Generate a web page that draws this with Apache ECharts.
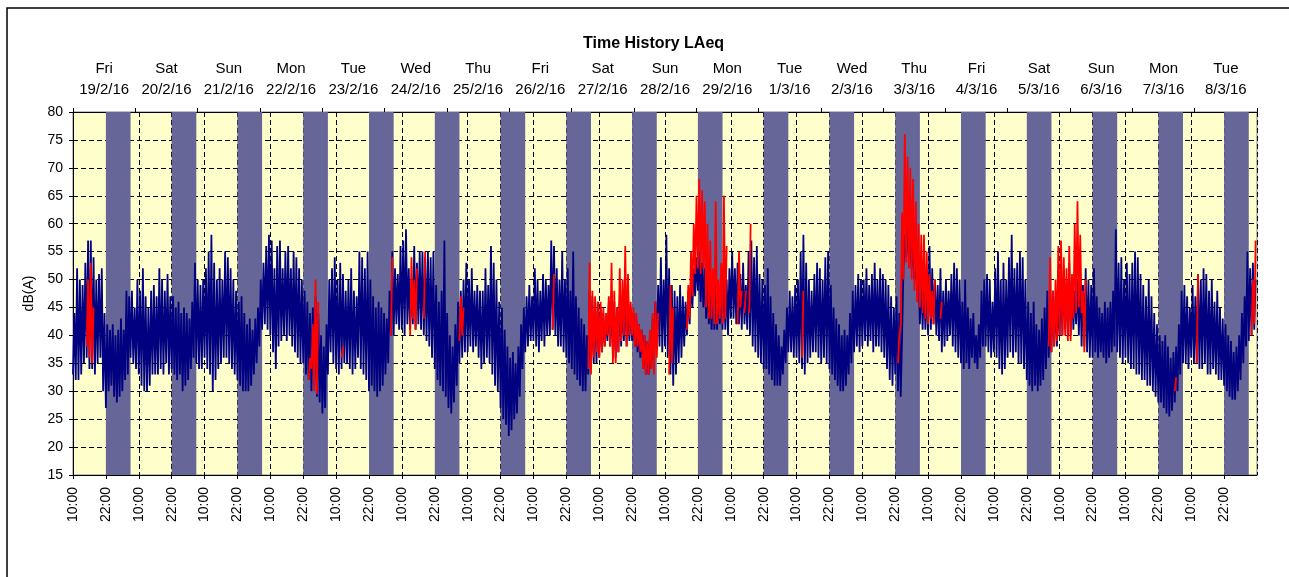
<!DOCTYPE html>
<html>
<head>
<meta charset="utf-8">
<script src="https://cdn.jsdelivr.net/npm/echarts@6/dist/echarts.min.js"></script>
<style>html,body{margin:0;padding:0;background:#fff}#c{width:1289px;height:577px}</style>
</head>
<body>
<div id="c"></div>
<script>
// ---------- DATA ----------
const chartTitle = 'Time History LAeq';
const yName = 'dB(A)';
const startTime = '2016-02-19 10:00';          // left edge of the time axis
const endHours = 432;                            // 18 days shown
const dayLabels = ['Fri\n19/2/16','Sat\n20/2/16','Sun\n21/2/16','Mon\n22/2/16','Tue\n23/2/16','Wed\n24/2/16','Thu\n25/2/16','Fri\n26/2/16','Sat\n27/2/16','Sun\n28/2/16','Mon\n29/2/16','Tue\n1/3/16','Wed\n2/3/16','Thu\n3/3/16','Fri\n4/3/16','Sat\n5/3/16','Sun\n6/3/16','Mon\n7/3/16','Tue\n8/3/16'];
const timeTickLabels = ['10:00', '22:00'];
const nightFrom = 22, nightTo = 7;               // night shading, hours of day

// LAeq, hourly peak (hi) and floor (lo), each block runs 10:00 -> 10:00 next day
const hi_1902 = [44,52,50,49,53,57,57,54,50,51,52,44,42,41,42,40,41,43,41,48,47,48,45,50];
const lo_1902 = [33,32,32,33,35,36,34,34,33,35,36,30,27,30,31,29,28,29,30,32,33,36,35,34];
const hi_2002 = [48,52,47,45,48,49,47,52,50,48,51,47,47,45,46,44,45,44,43,46,53,50,49,50];
const lo_2002 = [33,31,30,30,31,33,33,33,34,33,35,33,34,33,32,33,30,31,32,34,36,35,34,34];
const hi_2102 = [52,55,58,53,50,52,50,55,54,52,50,48,46,47,44,42,43,41,43,45,50,53,56,58];
const lo_2102 = [36,34,33,30,32,34,35,36,36,35,34,33,32,31,30,30,30,31,33,35,38,41,42,41];
const hi_2202 = [57,52,56,57,52,55,56,52,55,54,52,50,48,46,44,45,47,44,40,38,42,50,52,54];
const lo_2202 = [40,37,34,38,39,40,39,40,38,37,36,35,35,33,32,30,31,29,28,26,27,33,37,35];
const hi_2302 = [50,53,51,48,50,52,48,47,55,54,52,55,50,47,45,46,45,44,43,48,55,52,51,56];
const lo_2302 = [34,33,34,35,35,34,33,34,36,34,33,32,30,31,30,29,30,31,33,35,40,40,42,41];
const hi_2402 = [57,59,52,50,56,53,55,55,54,55,54,55,49,46,48,57,44,40,38,42,46,48,50,53];
const lo_2402 = [41,40,42,41,42,41,42,41,40,39,38,36,34,32,31,30,29,27,26,28,31,35,36,37];
const hi_2502 = [50,52,48,49,48,48,52,49,56,53,50,46,45,41,38,36,37,35,38,42,45,47,49,47];
const lo_2502 = [37,38,37,38,36,34,35,36,35,33,31,30,27,25,24,22,23,25,26,29,34,37,38,39];
const hi_2602 = [52,50,48,51,50,49,57,56,52,50,55,50,52,48,55,47,45,43,42,40,48,47,46,46];
const lo_2602 = [39,38,37,39,38,40,40,41,40,38,38,37,36,35,34,33,32,31,30,30,33,34,35,35];
const hi_2702 = [45,44,43,46,48,46,45,47,46,48,47,45,44,43,42,41,40,39,40,43,46,49,54,50];
const lo_2702 = [36,37,38,39,38,36,36,37,38,39,38,39,39,38,37,36,34,33,33,34,36,38,38,37];
const hi_2802 = [58,52,49,48,47,49,47,46,48,50,52,54,55,53,52,50,48,50,49,48,50,52,50,52];
const lo_2802 = [38,36,33,31,33,35,36,38,40,42,45,47,48,46,45,43,42,41,41,41,42,41,41,40];
const hi_2902 = [55,52,53,51,53,49,55,57,54,56,51,50,49,52,47,44,42,40,38,41,45,48,47,49];
const lo_2902 = [43,43,42,42,41,42,41,40,38,37,36,35,34,34,33,32,31,31,31,33,35,37,37,36];
const hi_0103 = [50,55,58,53,50,48,51,53,52,50,54,55,49,45,43,42,40,41,40,44,48,49,51,50];
const lo_0103 = [36,35,34,33,35,36,37,37,36,35,36,35,34,33,32,31,30,30,31,33,35,37,38,37];
const hi_0203 = [50,52,49,51,53,50,52,51,50,49,47,45,47,44,40,58,60,58,56,54,52,50,50,49];
const lo_0203 = [38,39,38,39,37,38,38,37,36,34,32,31,33,30,29,52,54,54,52,50,48,42,41,41];
const hi_0303 = [56,52,50,49,52,48,50,48,51,53,52,50,46,50,45,43,44,40,42,48,50,51,50,46];
const lo_0303 = [40,41,42,40,39,37,38,39,40,38,37,36,35,34,35,34,36,35,34,36,38,38,37,36];
const hi_0403 = [52,55,50,53,50,54,58,52,53,55,54,50,46,44,46,42,41,43,45,48,46,48,47,46];
const lo_0403 = [37,36,34,33,34,36,37,36,37,35,35,34,32,31,30,31,30,31,32,34,36,37,38,38];
const hi_0503 = [50,52,50,53,50,48,50,51,49,52,50,49,52,47,45,44,46,45,46,48,59,53,54,50];
const lo_0503 = [40,40,41,40,40,41,42,40,38,38,37,36,36,37,36,37,36,35,36,37,38,37,36,35];
const hi_0603 = [53,51,53,55,54,51,49,47,50,47,44,42,40,39,40,38,36,37,38,42,48,49,47,45];
const lo_0603 = [36,35,34,34,33,33,32,32,31,31,30,29,28,28,27,26,25.5,26.5,28,30,33,35,35,34];
const hi_0703 = [49,47,51,50,52,51,48,50,46,48,45,43,42,40,39,37,38,40,44,47,55,52,53,50];
const lo_0703 = [36,35,35,34,34,35,33,33,34,33,32,32,31,30,29,28.5,28.5,30,32,35,38,39,40,41];

// Highlighted (red) periods: start time, hourly peak and floor
const red01 = { start: '2016-02-19 15:00', hi: [50,53,45], lo: [38,36,35] };
const red02 = { start: '2016-02-23 00:00', hi: [36,42,50,46], lo: [32,34,30,29.5] };
const red03 = { start: '2016-02-23 12:00', hi: [38], lo: [36] };
const red04 = { start: '2016-02-24 06:00', hi: [54], lo: [40] };
const red05 = { start: '2016-02-24 13:00', hi: [54,50,52], lo: [40,43,41] };
const red06 = { start: '2016-02-24 18:00', hi: [55], lo: [43] };
const red07 = { start: '2016-02-25 07:00', hi: [47,45], lo: [39,40] };
const red08 = { start: '2016-02-26 17:00', hi: [51], lo: [41] };
const red09 = { start: '2016-02-27 06:00', hi: [53,48,47,46,46,45,44,47,53,48,45,52,50,56,51,46,45,44,42,41,40,39,41,44,46,44], lo: [34,33,36,37,36,37,38,40,38,35,35,37,39,40,38,40,40,38,38,37,34,33,33,34,33,36] };
const red10 = { start: '2016-02-28 11:30', hi: [49,45], lo: [33,35] };
const red11 = { start: '2016-02-28 18:00', hi: [49,55,60,65,68,66,64,60,57,52,64,50,53,65,56], lo: [41,43,47,51,52,51,52,45,43,43,42,42,43,42,43] };
const red12 = { start: '2016-02-29 12:30', hi: [55,48], lo: [42,45] };
const red13 = { start: '2016-02-29 15:00', hi: [48], lo: [44] };
const red14 = { start: '2016-02-29 16:45', hi: [60], lo: [44] };
const red15 = { start: '2016-03-01 12:00', hi: [48], lo: [36] };
const red16 = { start: '2016-03-02 23:00', hi: [40,62,76,72,70,68,64,60,58,58,55,51,48,50], lo: [35,42,50,53,52,50,48,46,45,44,43,42,43,42] };
const red17 = { start: '2016-03-03 14:30', hi: [46], lo: [43] };
const red18 = { start: '2016-03-05 06:00', hi: [54,48,50,56,57,54,52,56,51,60,64,58,48,50], lo: [38,37,38,39,40,40,40,39,39,43,44,45,44,37] };
const red19 = { start: '2016-03-07 04:00', hi: [32.5], lo: [30] };
const red20 = { start: '2016-03-07 12:00', hi: [51], lo: [35] };
const red21 = { start: '2016-03-08 08:00', hi: [50,57], lo: [40,42] };

// ---------- BUILD ----------
const blueHi = [hi_1902,hi_2002,hi_2102,hi_2202,hi_2302,hi_2402,hi_2502,hi_2602,hi_2702,hi_2802,hi_2902,hi_0103,hi_0203,hi_0303,hi_0403,hi_0503,hi_0603,hi_0703];
const blueLo = [lo_1902,lo_2002,lo_2102,lo_2202,lo_2302,lo_2402,lo_2502,lo_2602,lo_2702,lo_2802,lo_2902,lo_0103,lo_0203,lo_0303,lo_0403,lo_0503,lo_0603,lo_0703];
const redSegs = [red01,red02,red03,red04,red05,red06,red07,red08,red09,red10,red11,red12,red13,red14,red15,red16,red17,red18,red19,red20,red21];

function toMs(s) {
  const m = s.match(/(\d+)-(\d+)-(\d+) (\d+):(\d+)/);
  return Date.UTC(+m[1], +m[2] - 1, +m[3], +m[4], +m[5]);
}
const t0 = toMs(startTime);
const hoursFrom = s => (toMs(s) - t0) / 3600000;
const startHourOfDay = new Date(t0).getUTCHours();

const blueData = [];
blueHi.forEach((hiArr, d) => {
  hiArr.forEach((hv, h) => {
    blueData.push([24 * d + h, blueLo[d][h]]);
    blueData.push([24 * d + h + 0.5, hv]);
  });
});

const redData = [];
redSegs.forEach(seg => {
  const s = hoursFrom(seg.start);
  seg.hi.forEach((hv, i) => {
    redData.push([s + i, seg.lo[i]]);
    redData.push([s + i + 0.5, hv]);
  });
  redData.push([s + seg.hi.length, null]);
});

const nightAreas = [];
for (let d = 0; d < 18; d++) {
  const a = 24 * d + (nightFrom - startHourOfDay);
  const b = 24 * d + (24 + nightTo - startHourOfDay);
  nightAreas.push([{ xAxis: a }, { xAxis: b }]);
}

const FONT = 'Liberation Sans, Arial, sans-serif';
const chart = echarts.init(document.getElementById('c'), null, { renderer: 'canvas' });
chart.setOption({
  animation: false,
  backgroundColor: '#ffffff',
  title: {
    text: chartTitle, left: 578, top: 31,
    textStyle: { fontFamily: FONT, fontSize: 16, fontWeight: 'bold', color: '#000' }
  },
  graphic: [{
    type: 'rect', shape: { x: 7, y: 8, width: 1300, height: 600 }, silent: true,
    style: { fill: 'none', stroke: '#000', lineWidth: 1.5 }
  }],
  grid: {
    left: 73, top: 112, width: 1184, height: 363,
    show: true, backgroundColor: '#FFFFCC', borderColor: '#808080', borderWidth: 1
  },
  xAxis: [{
    type: 'value', position: 'bottom', min: 0, max: endHours, interval: 12,
    axisLine: { show: true, onZero: false, lineStyle: { color: '#000', width: 1 } },
    axisTick: { show: true, length: 4, lineStyle: { color: '#000' } },
    axisLabel: {
      rotate: 90, margin: 12, fontFamily: FONT, fontSize: 14, color: '#000', showMaxLabel: false,
      formatter: v => timeTickLabels[Math.round(v / 12) % 2]
    },
    splitLine: { show: true, lineStyle: { color: '#000', type: [5, 3], width: 1 } }
  }, {
    type: 'category', position: 'top', data: dayLabels, boundaryGap: true,
    axisLine: { show: true, lineStyle: { color: '#000', width: 1 } },
    axisTick: { show: true, length: 4, lineStyle: { color: '#000' } },
    axisLabel: { interval: 0, margin: 12, lineHeight: 21, fontFamily: FONT, fontSize: 15, color: '#000' },
    splitLine: { show: false }
  }],
  yAxis: {
    type: 'value', min: 15, max: 80, interval: 5,
    name: yName, nameLocation: 'middle', nameGap: 30, nameRotate: 90,
    nameTextStyle: { fontFamily: FONT, fontSize: 14, color: '#000' },
    axisLine: { show: true, lineStyle: { color: '#000', width: 1 } },
    axisTick: { show: true, length: 4, lineStyle: { color: '#000' } },
    axisLabel: { margin: 10, fontFamily: FONT, fontSize: 14, color: '#000' },
    splitLine: { show: true, lineStyle: { color: '#000', type: [5, 3], width: 1 } }
  },
  series: [{
    name: 'night', type: 'line', data: [], z: 1, silent: true,
    markArea: { silent: true, itemStyle: { color: '#666699', opacity: 1 }, data: nightAreas }
  }, {
    name: 'LAeq', type: 'line', data: blueData, showSymbol: false, z: 3, sampling: 'none',
    lineStyle: { color: '#000080', width: 1.8 }, itemStyle: { color: '#000080' }
  }, {
    name: 'LAeq flagged', type: 'line', data: redData, showSymbol: false, z: 4, connectNulls: false,
    lineStyle: { color: '#FF0000', width: 1.8 }, itemStyle: { color: '#FF0000' }
  }]
});
</script>
</body>
</html>
